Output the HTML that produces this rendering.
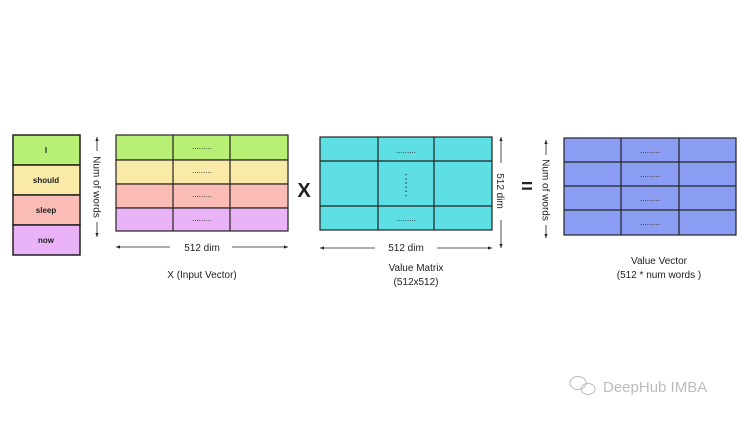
<!DOCTYPE html>
<html><head><meta charset="utf-8"><style>
html,body{margin:0;padding:0;background:#fff;}
svg{display:block;font-family:"Liberation Sans",sans-serif;}
</style></head><body>
<svg width="750" height="422" viewBox="0 0 750 422" xmlns="http://www.w3.org/2000/svg">
<defs>
<marker id="a" markerWidth="6" markerHeight="6" refX="5" refY="3" orient="auto"><path d="M0,1 L5,3 L0,5 z" fill="#222"/></marker>
</defs>
<rect width="750" height="422" fill="#fff"/>
<!-- words -->
<g stroke="#222" stroke-width="1.5">
<rect x="13" y="135" width="67" height="30" fill="#b8f075"/>
<rect x="13" y="165" width="67" height="30" fill="#faeaa8"/>
<rect x="13" y="195" width="67" height="30" fill="#fbbcb6"/>
<rect x="13" y="225" width="67" height="30" fill="#eab3f7"/>
</g>
<g font-size="8" font-weight="bold" text-anchor="middle" fill="#222">
<text x="46" y="153">I</text><text x="46" y="183">should</text><text x="46" y="213">sleep</text><text x="46" y="243">now</text>
</g>
<!-- left arrow -->
<line x1="97" y1="151" x2="97" y2="137" stroke="#222" stroke-width="0.8" marker-end="url(#a)"/>
<line x1="97" y1="222" x2="97" y2="237" stroke="#222" stroke-width="0.8" marker-end="url(#a)"/>
<text transform="translate(93.5,187) rotate(90)" font-size="10" text-anchor="middle" fill="#222">Num of words</text>
<!-- X matrix -->
<g stroke="#222" stroke-width="1.2">
<rect x="116" y="135" width="172" height="25" fill="#b8f075"/>
<rect x="116" y="160" width="172" height="24" fill="#faeaa8"/>
<rect x="116" y="184" width="172" height="24" fill="#fbbcb6"/>
<rect x="116" y="208" width="172" height="23" fill="#eab3f7"/>
<line x1="173" y1="135" x2="173" y2="231"/><line x1="230" y1="135" x2="230" y2="231"/>
</g>
<g font-size="8" text-anchor="middle" fill="#222">
<text x="202" y="149">.........</text><text x="202" y="173">.........</text><text x="202" y="197">.........</text><text x="202" y="221">.........</text>
</g>
<line x1="170" y1="247" x2="116" y2="247" stroke="#222" stroke-width="0.8" marker-end="url(#a)"/>
<line x1="232" y1="247" x2="288" y2="247" stroke="#222" stroke-width="0.8" marker-end="url(#a)"/>
<text x="202" y="251" font-size="10" text-anchor="middle" fill="#222">512 dim</text>
<text x="202" y="278" font-size="10" text-anchor="middle" fill="#222">X (Input Vector)</text>
<text x="304" y="197" font-size="20" font-weight="bold" text-anchor="middle" fill="#222">X</text>
<!-- value matrix -->
<g stroke="#222" stroke-width="1.2">
<rect x="320" y="137" width="172" height="93" fill="#5edfe3"/>
<line x1="320" y1="161" x2="492" y2="161"/><line x1="320" y1="206" x2="492" y2="206"/>
<line x1="378" y1="137" x2="378" y2="230"/><line x1="434" y1="137" x2="434" y2="230"/>
</g>
<g font-size="8" text-anchor="middle" fill="#222">
<text x="406" y="153">.........</text><text x="406" y="221">.........</text>
</g>
<line x1="406" y1="174" x2="406" y2="198" stroke="#222" stroke-width="1.2" stroke-dasharray="1.2,3"/>
<line x1="501" y1="163" x2="501" y2="137" stroke="#222" stroke-width="0.8" marker-end="url(#a)"/>
<line x1="501" y1="220" x2="501" y2="248" stroke="#222" stroke-width="0.8" marker-end="url(#a)"/>
<text transform="translate(497,191) rotate(90)" font-size="10" text-anchor="middle" fill="#222">512 dim</text>
<line x1="375" y1="248" x2="320" y2="248" stroke="#222" stroke-width="0.8" marker-end="url(#a)"/>
<line x1="437" y1="248" x2="492" y2="248" stroke="#222" stroke-width="0.8" marker-end="url(#a)"/>
<text x="406" y="251" font-size="10" text-anchor="middle" fill="#222">512 dim</text>
<text x="416" y="271" font-size="10" text-anchor="middle" fill="#222">Value Matrix</text>
<text x="416" y="285" font-size="10" text-anchor="middle" fill="#222">(512x512)</text>
<text x="527" y="193" font-size="20" font-weight="bold" text-anchor="middle" fill="#222">=</text>
<!-- value vector -->
<line x1="546" y1="155" x2="546" y2="140" stroke="#222" stroke-width="0.8" marker-end="url(#a)"/>
<line x1="546" y1="225" x2="546" y2="238" stroke="#222" stroke-width="0.8" marker-end="url(#a)"/>
<text transform="translate(542.5,190) rotate(90)" font-size="10" text-anchor="middle" fill="#222">Num of words</text>
<g stroke="#222" stroke-width="1.2">
<rect x="564" y="138" width="172" height="97" fill="#8b9cf3"/>
<line x1="564" y1="162" x2="736" y2="162"/><line x1="564" y1="186" x2="736" y2="186"/><line x1="564" y1="210" x2="736" y2="210"/>
<line x1="621" y1="138" x2="621" y2="235"/><line x1="679" y1="138" x2="679" y2="235"/>
</g>
<g font-size="8" text-anchor="middle" fill="#222">
<text x="650" y="153">.........</text><text x="650" y="177">.........</text><text x="650" y="201">.........</text><text x="650" y="225">.........</text>
</g>
<text x="659" y="264" font-size="10" text-anchor="middle" fill="#222">Value Vector</text>
<text x="659" y="278" font-size="10" text-anchor="middle" fill="#222">(512 * num words )</text>
<!-- watermark -->
<g fill="none" stroke="#bbb" stroke-width="1">
<ellipse cx="578" cy="383" rx="8" ry="6.5"/><ellipse cx="588" cy="389" rx="7" ry="5.5"/>
</g>
<text x="603" y="392" font-size="15" fill="#bbb">DeepHub IMBA</text>
</svg>
</body></html>
